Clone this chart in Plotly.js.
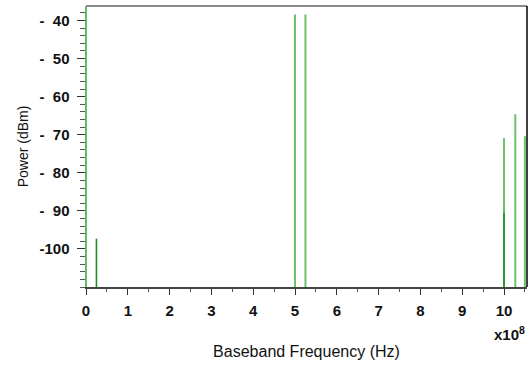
<!DOCTYPE html>
<html><head><meta charset="utf-8">
<script src="https://cdn.plot.ly/plotly-3.0.1.min.js"></script>
<style>html,body{margin:0;padding:0;background:#fff}#c{width:531px;height:367px}</style>
</head><body><div id="c"></div>
<script>
// Frequencies in units of 1e8 Hz, powers in dBm
var lightFreq = [0, 5.0, 5.25, 10.0, 10.27, 10.5];
var lightPower = [-30, -38.4, -38.4, -70.9, -64.6, -70.4];
var darkFreq = [0.25, 10.0];
var darkPower = [-97.3, -90.5];
var yTickVals = [-40, -50, -60, -70, -80, -90, -100];
var yTickText = ['-\u00a0\u00a040', '-\u00a0\u00a050', '-\u00a0\u00a060', '-\u00a0\u00a070', '-\u00a0\u00a080', '-\u00a0\u00a090', '-100'];
var xTickVals = [0,1,2,3,4,5,6,7,8,9,10];
var xTickText = ['0','1','2','3','4','5','6','7','8','9','10'];
var yFloor = -110;

function stems(fx, py){
  var x=[], y=[];
  for (var i=0;i<fx.length;i++){ x.push(fx[i],fx[i],null); y.push(yFloor,py[i],null); }
  return {x:x,y:y};
}
var L = stems(lightFreq, lightPower), D = stems(darkFreq, darkPower);
var ff = 'Liberation Sans, Arial, sans-serif';
var tickFont = {family:ff, size:15, color:'#111', weight:'bold'};
var data = [
  {type:'scatter', mode:'lines', x:L.x, y:L.y, line:{color:'rgba(80,185,80,0.85)', width:2}, hoverinfo:'skip', showlegend:false},
  {type:'scatter', mode:'lines', x:D.x, y:D.y, line:{color:'#1f8f1f', width:1.6}, hoverinfo:'skip', showlegend:false}
];
var layout = {
  width:531, height:367,
  margin:{l:86, r:4, t:6, b:80},
  paper_bgcolor:'#fff', plot_bgcolor:'#fff',
  showlegend:false,
  xaxis:{range:[0,10.55], showgrid:false, zeroline:false,
    tickmode:'array', tickvals:xTickVals, ticktext:xTickText,
    ticks:'outside', ticklen:6, tickcolor:'#333', tickwidth:1,
    minor:{dtick:0.5, tick0:0, ticks:'outside', ticklen:3, tickcolor:'#555'},
    showline:true, linecolor:'#444', linewidth:1.5,
    tickfont:tickFont, ticklabelstandoff:3,
    title:{text:'Baseband Frequency (Hz)', font:{family:ff, size:16, color:'#111'}, standoff:28}
  },
  yaxis:{range:[yFloor,-36.2], showgrid:false, zeroline:false,
    tickmode:'array', tickvals:yTickVals, ticktext:yTickText,
    ticks:'outside', ticklen:8, tickcolor:'#333', tickwidth:1,
    minor:{dtick:2, tick0:-40, ticks:'outside', ticklen:5, tickcolor:'#555'},
    showline:true, linecolor:'#5cb85c', linewidth:1.5,
    tickfont:tickFont, ticklabelstandoff:4,
    title:{text:'Power (dBm)', font:{family:ff, size:14, color:'#111'}, standoff:7}
  },
  shapes:[
    {type:'line', xref:'paper', yref:'paper', x0:0, x1:1, y0:1, y1:1, line:{color:'#888', width:2}},
    {type:'line', xref:'paper', yref:'paper', x0:1, x1:1, y0:0, y1:1, line:{color:'#000', width:1.5}}
  ],
  annotations:[
    {xref:'paper', yref:'paper', x:1.0, y:-0.165, xanchor:'right', yanchor:'middle', showarrow:false,
     text:'x10<sup>8</sup>', font:{family:ff, size:15, color:'#111', weight:'bold'}}
  ]
};
Plotly.newPlot('c', data, layout, {displayModeBar:false, staticPlot:true});
</script></body></html>
